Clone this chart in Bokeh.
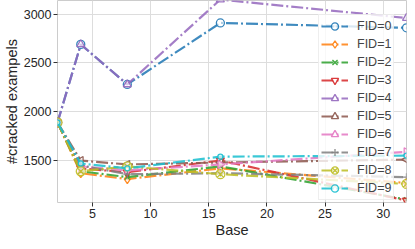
import numpy as np
from bokeh.plotting import figure
from bokeh.models import Range1d, Legend, LegendItem
from bokeh.embed import file_html
from bokeh.resources import INLINE

bases = [2, 4, 8, 16, 32]
fid0 = [1890, 2690, 2280, 2910, 2860]
fid1 = [1890, 1370, 1310, 1420, 1270]
fid2 = [1890, 1390, 1330, 1440, 1100]
fid3 = [1890, 1420, 1380, 1500, 1090]
fid4 = [1890, 2690, 2280, 3150, 2960]
fid5 = [1890, 1500, 1460, 1480, 1510]
fid6 = [1890, 1440, 1400, 1460, 1590]
fid7 = [1890, 1450, 1360, 1370, 1330]
fid8 = [1890, 1390, 1440, 1360, 1260]
fid9 = [1890, 1470, 1420, 1540, 1550]
series = [fid0, fid1, fid2, fid3, fid4, fid5, fid6, fid7, fid8, fid9]
labels = ["FID=%d" % i for i in range(10)]

colors = ["#1f77b4", "#ff7f0e", "#2ca02c", "#d62728", "#9467bd",
          "#8c564b", "#e377c2", "#7f7f7f", "#bcbd22", "#17becf"]
markers = [("circle", 0), ("diamond", 0), ("x", 0), ("inverted_triangle", 0),
           ("triangle", 0), ("triangle", np.pi / 2), ("triangle", -np.pi / 2),
           ("cross", 0), ("circle_x", 0), ("circle", 0)]
msizes = [8, 9, 7, 8, 8, 8, 8, 8, 9, 5]

FONT = "Liberation Sans"

p = figure(frame_width=349, frame_height=202, output_backend="svg", toolbar_location=None,
           x_range=Range1d(2, 32), y_range=Range1d(1070, 3140))
p.min_border_left = 0
p.min_border_right = 1
p.min_border_top = 0
p.min_border_bottom = 0
p.background_fill_color = "white"
p.outline_line_color = "#cccccc"
p.outline_line_width = 1

items = []
for i, ys in enumerate(series):
    lr = p.line(bases, ys, line_color=colors[i], line_width=2.2, line_dash="12 3 2 3",
                line_alpha=0.85)
    mk, ang = markers[i]
    sr = p.scatter(bases, ys, marker=mk, angle=ang, size=msizes[i], line_color=colors[i],
                   fill_color="white", fill_alpha=0.6, line_width=1.3, line_alpha=0.9)
    items.append(LegendItem(label=labels[i], renderers=[lr, sr]))

legend = Legend(items=items, location=(261, 2))
legend.label_text_font = FONT
legend.label_text_font_size = "12.5px"
legend.label_height = 18
legend.glyph_height = 18
legend.glyph_width = 27
legend.spacing = 0
legend.padding = 2
legend.margin = 0
legend.label_standoff = 9
legend.background_fill_alpha = 0.8
legend.border_line_color = "#dddddd"
p.add_layout(legend)

p.xaxis.axis_label = "Base"
p.yaxis.axis_label = "#cracked exampels"
p.xaxis.ticker = [5, 10, 15, 20, 25, 30]
p.yaxis.ticker = [1500, 2000, 2500, 3000]
for ax in (p.xaxis[0], p.yaxis[0]):
    ax.axis_label_text_font = FONT
    ax.axis_label_text_font_size = "14.5px"
    ax.axis_label_text_font_style = "normal"
    ax.axis_label_text_color = "#262626"
    ax.major_label_text_font = FONT
    ax.major_label_text_font_size = "12.5px"
    ax.major_label_text_color = "#262626"
    ax.axis_line_color = None
    ax.major_tick_line_color = "#333333"
    ax.major_tick_out = 4
    ax.major_tick_in = 0
    ax.minor_tick_line_color = None
    ax.major_label_standoff = 2
    ax.axis_label_standoff = 1
p.yaxis.major_label_orientation = "horizontal"
p.grid.grid_line_color = "#dddddd"
p.grid.grid_line_width = 1

open("out.html", "w").write(file_html(p, INLINE))
